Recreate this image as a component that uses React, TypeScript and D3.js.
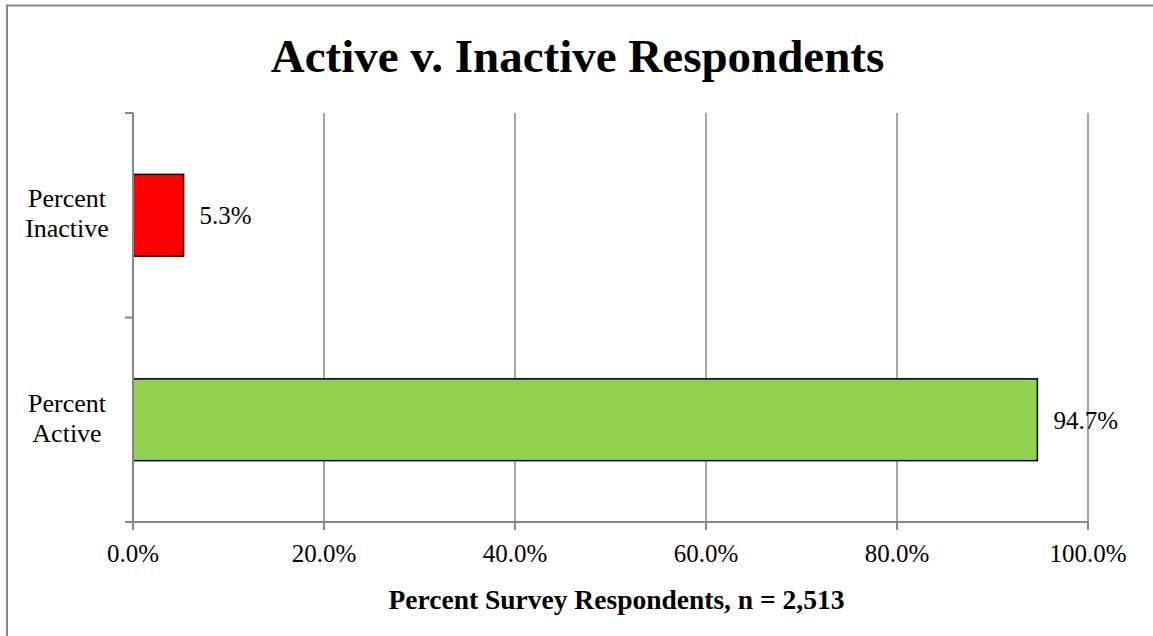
import React from "react";
import * as d3 from "d3";

const categories = ["Percent Inactive", "Percent Active"];
const categoryLines = [["Percent", "Inactive"], ["Percent", "Active"]];
const values = [5.3, 94.7];
const barColors = ["#FF0000", "#92D050"];
const xTicks = [0, 20, 40, 60, 80, 100];
const title = "Active v. Inactive Respondents";
const xTitle = "Percent Survey Respondents, n = 2,513";

const W = 1153;
const H = 636;
const left = 133;
const right = 1088;
const top = 113;
const bottom = 522;
const gridColor = "#878787";
const font = "'Liberation Serif', 'Times New Roman', serif";

export default function App() {
  const x = d3.scaleLinear().domain([0, 100]).range([left, right]);
  const y = d3
    .scaleBand<string>()
    .domain(categories)
    .range([top, bottom])
    .paddingInner(0.6)
    .paddingOuter(0.3);
  const catTicks = [top, (top + bottom) / 2, bottom];

  return (
    <svg
      width={W}
      height={H}
      style={{ position: "absolute", left: 0, top: 0, background: "#fff" }}
      fontFamily={font}
    >
      <rect x={0} y={0} width={W} height={H} fill="#fff" />
      <path d={`M7,${H} V5.5 H${W}`} fill="none" stroke="#888" strokeWidth={2} />
      <text
        x={577.5}
        y={72}
        textAnchor="middle"
        fontSize={47}
        fontWeight="bold"
        fill="#000"
      >
        {title}
      </text>
      {xTicks.slice(1).map((t) => (
        <line
          key={"g" + t}
          x1={x(t)}
          x2={x(t)}
          y1={top}
          y2={bottom}
          stroke={gridColor}
          strokeWidth={1.5}
        />
      ))}
      {categories.map((c, i) => (
        <rect
          key={c}
          x={x(0)}
          y={y(c)}
          width={x(values[i]) - x(0)}
          height={y.bandwidth()}
          fill={barColors[i]}
          stroke="#000"
          strokeWidth={1.5}
        />
      ))}
      <line x1={left} x2={left} y1={top} y2={bottom + 8} stroke={gridColor} strokeWidth={2} />
      <line x1={left - 8} x2={right} y1={bottom} y2={bottom} stroke={gridColor} strokeWidth={2} />
      {catTicks.map((t, i) => (
        <line key={"ct" + i} x1={left - 8} x2={left} y1={t} y2={t} stroke={gridColor} strokeWidth={2} />
      ))}
      {xTicks.map((t) => (
        <g key={"xt" + t}>
          <line x1={x(t)} x2={x(t)} y1={bottom} y2={bottom + 8} stroke={gridColor} strokeWidth={2} />
          <text x={x(t)} y={562} textAnchor="middle" fontSize={25} fill="#000">
            {t.toFixed(1) + "%"}
          </text>
        </g>
      ))}
      {categories.map((c, i) => {
        const cy = (y(c) as number) + y.bandwidth() / 2;
        return (
          <text key={"cl" + c} x={67} textAnchor="middle" fontSize={26} fill="#000">
            <tspan x={67} y={cy - 8}>{categoryLines[i][0]}</tspan>
            <tspan x={67} y={cy + 22}>{categoryLines[i][1]}</tspan>
          </text>
        );
      })}
      {categories.map((c, i) => {
        const cy = (y(c) as number) + y.bandwidth() / 2;
        return (
          <text key={"vl" + c} x={x(values[i]) + 16} y={cy + 9} fontSize={25} fill="#000">
            {values[i].toFixed(1) + "%"}
          </text>
        );
      })}
      <text x={616.5} y={609} textAnchor="middle" fontSize={27.5} fontWeight="bold" fill="#000">
        {xTitle}
      </text>
    </svg>
  );
}
